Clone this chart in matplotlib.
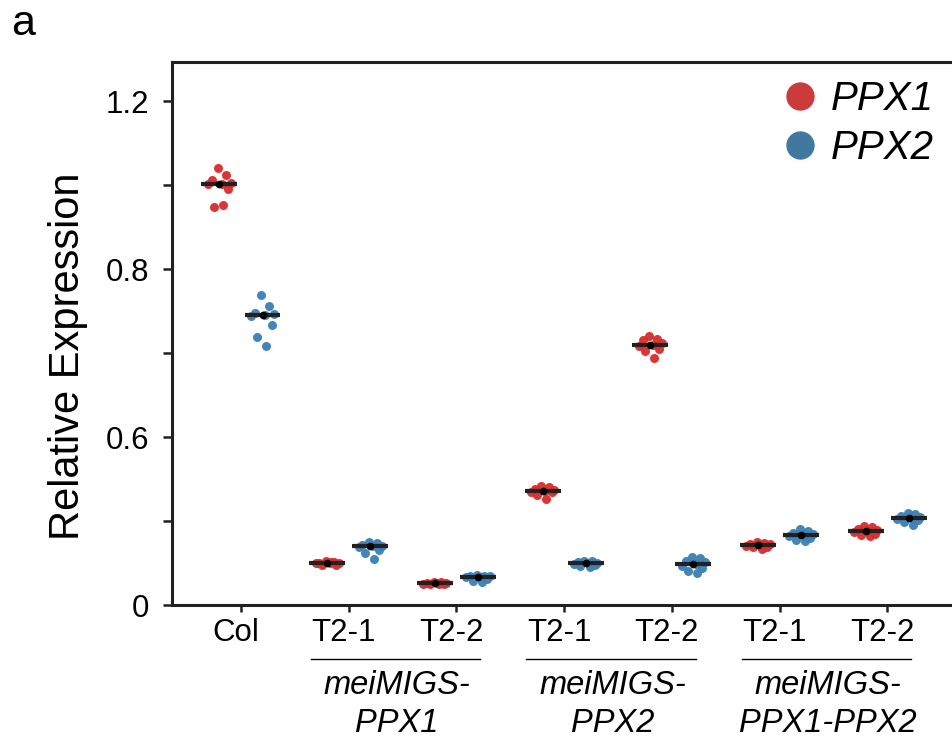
import matplotlib
matplotlib.use("Agg")
import matplotlib.pyplot as plt
import matplotlib.transforms as mtransforms
from matplotlib.lines import Line2D
import numpy as np

# sample lines (x categories) and their tick labels
lines = ["Col", "P1 T2-1", "P1 T2-2", "P2 T2-1", "P2 T2-2", "P12 T2-1", "P12 T2-2"]
tick_labels = ["Col", "T2-1", "T2-2", "T2-1", "T2-2", "T2-1", "T2-2"]
group_names = ["meiMIGS-\nPPX1", "meiMIGS-\nPPX2", "meiMIGS-\nPPX1-PPX2"]
genes = ["PPX1", "PPX2"]

# relative expression, one list of replicates per line
ppx1_values = [
    [1.040, 1.024, 1.012, 1.005, 1.002, 1.002, 0.990, 0.947, 0.952],
    [0.104, 0.102, 0.100, 0.100, 0.099, 0.101, 0.096, 0.095, 0.103],
    [0.055, 0.054, 0.053, 0.052, 0.052, 0.051, 0.050, 0.050, 0.049],
    [0.283, 0.280, 0.276, 0.274, 0.271, 0.270, 0.268, 0.262, 0.252],
    [0.640, 0.634, 0.631, 0.625, 0.620, 0.617, 0.610, 0.606, 0.587],
    [0.149, 0.148, 0.146, 0.145, 0.143, 0.141, 0.139, 0.137, 0.134],
    [0.188, 0.185, 0.181, 0.178, 0.176, 0.173, 0.170, 0.167, 0.164],
]
ppx2_values = [
    [0.738, 0.713, 0.696, 0.692, 0.690, 0.689, 0.667, 0.638, 0.616],
    [0.150, 0.147, 0.143, 0.141, 0.140, 0.138, 0.131, 0.125, 0.110],
    [0.071, 0.070, 0.069, 0.068, 0.067, 0.066, 0.062, 0.058, 0.056],
    [0.106, 0.105, 0.103, 0.101, 0.100, 0.098, 0.095, 0.093, 0.091],
    [0.115, 0.111, 0.106, 0.102, 0.098, 0.093, 0.088, 0.082, 0.077],
    [0.180, 0.176, 0.172, 0.169, 0.167, 0.164, 0.160, 0.156, 0.152],
    [0.220, 0.216, 0.212, 0.209, 0.207, 0.205, 0.203, 0.197, 0.191],
]

dot_colors = {"PPX1": "#d92b2b", "PPX2": "#3a7fb5"}
legend_colors = {"PPX1": "#cc3b3a", "PPX2": "#40789f"}
axis_color = "#231f20"

plt.rcParams["font.family"] = ["Liberation Sans", "DejaVu Sans"]

fig = plt.figure(figsize=(9.53, 7.43), dpi=100)
ax = fig.add_axes([0.1805, 0.1857, 0.8195, 0.7309])

# fixed (non-random) horizontal scatter pattern for the replicate dots
spread = np.array([-0.1, 0.5, -0.6, 0.9, 0.2, -0.9, 0.7, -0.4, 0.3]) * 0.12
offsets = [-0.2, 0.2]

for gene, values, off in zip(genes, [ppx1_values, ppx2_values], offsets):
    for i, reps in enumerate(values):
        reps = np.asarray(reps)
        xs = i + off + spread[: len(reps)]
        ax.scatter(xs, reps, s=42, color=dot_colors[gene], linewidths=0,
                   alpha=0.95, zorder=2)
        med = np.median(reps)
        ax.hlines(med, i + off - 0.167, i + off + 0.167, color="#222222", lw=3, zorder=3)
        ax.plot(i + off, med, "o", color="black", ms=4.5, zorder=4)

ax.set_xlim(-0.64, 6.61)
ax.set_ylim(0, 1.293)

ax.set_yticks(np.arange(0, 1.21, 0.2))
ax.set_yticklabels(["0", "", "0.6", "", "0.8", "", "1.2"])
ax.set_xticks(range(len(lines)))
ax.set_xticklabels(tick_labels)

for sp in ["left", "top", "bottom"]:
    ax.spines[sp].set_linewidth(2.2)
    ax.spines[sp].set_color(axis_color)
ax.spines["right"].set_visible(False)

ax.tick_params(axis="x", length=5, width=1.8, pad=4, labelsize=22.5, color=axis_color)
ax.tick_params(axis="y", length=6.5, width=1.8, pad=10, labelsize=22.5, color=axis_color)
shift = mtransforms.ScaledTranslation(-5 / 100, 0, fig.dpi_scale_trans)
for lab in ax.get_xticklabels():
    lab.set_transform(lab.get_transform() + shift)

# group underlines and names
blend = mtransforms.blended_transform_factory(ax.transData, fig.transFigure)
for k, name in enumerate(group_names):
    first, last = 2 * k + 1, 2 * k + 2
    ax.plot([first - 0.35, last + 0.22], [0.113, 0.113], color="black", lw=1,
            transform=blend, clip_on=False)
    ax.text((first + last) / 2 - 0.05, 0.0515, name, transform=blend, ha="center",
            va="center", fontsize=23.5, style="italic", linespacing=1.3)

fig.text(0.0714, 0.521, "Relative Expression", rotation=90, ha="center",
         va="center", fontsize=30)
fig.text(0.0115, 0.953, "a", fontsize=31, ha="left", va="baseline")

handles = [Line2D([], [], ls="", marker="o", ms=19.4, color=legend_colors[g]) for g in genes]
fig.legend(handles, genes, loc="upper left", bbox_to_anchor=(780 / 953, 1 - 80 / 743),
           frameon=False, borderpad=0, borderaxespad=0, handlelength=1.0,
           handletextpad=0.25, labelspacing=0.27, prop={"size": 29, "style": "italic"})

fig.savefig("out.png", dpi=100)
